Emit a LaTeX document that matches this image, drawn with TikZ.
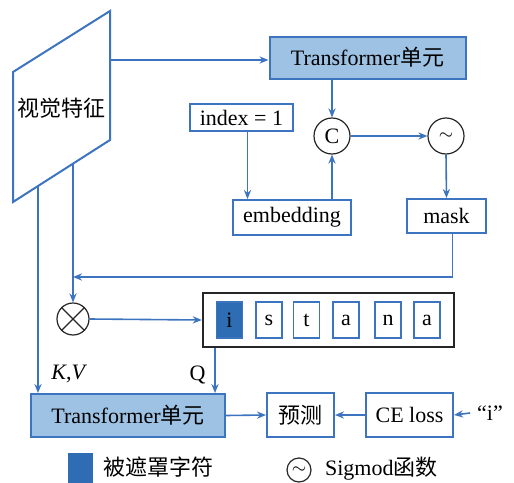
\documentclass[tikz,border=0pt]{standalone}
\usepackage{fontspec}
\setmainfont{Liberation Serif}
\newfontfamily\zhfont{Noto Sans CJK SC}
\newcommand{\zh}[1]{{\zhfont #1}}
\usetikzlibrary{arrows.meta}

\definecolor{lineblue}{HTML}{3D74BF}
\definecolor{unitfill}{HTML}{9DC2E4}
\definecolor{maskblue}{HTML}{2E6DB4}

\begin{document}
\begin{tikzpicture}[
  x=0.5pt,y=-0.5pt,
  font=\fontsize{11}{13}\selectfont,
  box/.style={draw=lineblue,line width=1pt,fill=white,inner sep=0pt,
    minimum height=17pt},
  unit/.style={box,fill=unitfill,minimum width=98pt,minimum height=21pt},
  op/.style={circle,draw=black!85,line width=.6pt,minimum size=18pt,
    inner sep=0pt},
  cell/.style={draw=lineblue,line width=.9pt,minimum width=13pt,
    minimum height=18pt,inner sep=0pt},
  arr/.style={-{Stealth[length=4.5pt,width=3.6pt]},draw=lineblue,
    line width=.8pt}
]
\useasboundingbox (0,0) rectangle (514,482);

% visual features
\draw[lineblue,line width=1pt] (13,72) -- (110,11) -- (110,140) -- (13,202) -- cycle;
\node (feat) at (62,108) {\zh{视觉特征}};
\coordinate (fout) at (110,60);
\coordinate (fkv) at (38,186);
\coordinate (fmul) at (73,164);

% upper branch
\node[unit] (trtop) at (367.5,57.5) {Transformer\zh{单元}};
\node[box,minimum width=51.5pt,minimum height=13.5pt] (idx) at (241.5,117.5) {index = 1};
\node[op] (cat) at (332,136) {C};
\node[op] (sig) at (446,136) {\small$\sim$};
\node[box,minimum width=59pt,minimum height=17.5pt] (emb) at (292,217.5) {embedding};
\node[box,minimum width=39.5pt] (mask) at (446.5,216) {mask};
\coordinate (jn) at (73,277);

% masked sequence
\node[op,minimum size=16pt] (mul) at (73,319) {};
\draw[black!85,line width=.6pt] (mul.45) -- (mul.225) (mul.135) -- (mul.315);
\node[draw=black!85,line width=1.2pt,minimum width=125.5pt,minimum height=27pt] (seq) at (328.5,320) {};
\node[cell,fill=maskblue] (c1) at (229.5,320) {i};
\node[cell] (c2) at (269,320) {s};
\node[cell] (c3) at (306.5,320) {t};
\node[cell] (c4) at (346,320) {a};
\node[cell] (c5) at (388,320) {n};
\node[cell] (c6) at (427,320) {a};

% decoding and loss
\node[unit,minimum width=97pt,minimum height=21.5pt] (trbot) at (128,415.5) {Transformer\zh{单元}};
\node[box,minimum width=33.5pt,minimum height=22pt] (pred) at (300.5,415) {\zh{预测}};
\node[box,minimum width=43.5pt,minimum height=22pt] (ce) at (409.5,415) {CE loss};
\node (gt) at (490,413) {“i”};

% legend
\node[fill=maskblue,minimum width=12.5pt,minimum height=15pt,inner sep=0pt] (keymask) at (80.5,468) {};
\node[anchor=west] (keymasktxt) at (96,467) {\zh{被遮罩字符}};
\node[op,minimum size=12pt] (keysig) at (299,470) {\small$\sim$};
\node[anchor=west] (keysigtxt) at (318,469) {Sigmod\zh{函数}};

\draw[arr] (fout) -- (fout -| trtop.west);
\draw[arr] (trtop.south -| cat) -- (cat.north);
\draw[arr] ([xshift=3pt]idx.south) -- ([xshift=3pt]idx.south |- emb.north);
\draw[arr] (emb.north -| cat) -- (cat.south);
\draw[arr] (cat.east) -- (sig.west);
\draw[arr] (sig.south) -- (mask.north);
\draw[arr] ([xshift=3pt]mask.south) |- (jn);
\draw[arr] (fmul) -- (mul.north);
\draw[arr] (mul.east) -- (seq.west);
\draw[arr] (fkv) -- (fkv |- trbot.north) node[pos=.91,right=3pt] {\textit{K},\textit{V}};
\draw[arr] (seq.south -| 215,0) -- (trbot.north -| 215,0) node[pos=.6,left=1pt] {Q};
\draw[arr] (trbot.east) -- (pred.west);
\draw[arr] (ce.west) -- (pred.east);
\draw[arr] (gt.west) -- (ce.east);
\end{tikzpicture}
\end{document}
